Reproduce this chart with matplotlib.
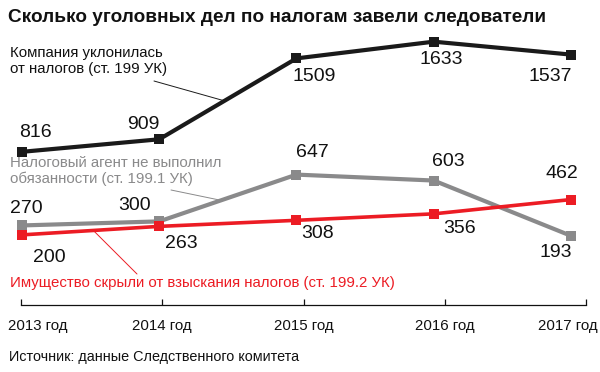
import matplotlib
matplotlib.use("Agg")
import matplotlib.pyplot as plt
import matplotlib.transforms as mtransforms
import numpy as np

plt.rcParams["font.family"] = ["Liberation Sans", "DejaVu Sans"]

years = ["2013 год", "2014 год", "2015 год", "2016 год", "2017 год"]
evasion = [816, 909, 1509, 1633, 1537]        # ст. 199 УК
agent = [270, 300, 647, 603, 193]             # ст. 199.1 УК
concealed = [200, 263, 308, 356, 462]         # ст. 199.2 УК

BLACK = "#1a1a1a"
GRAY = "#8a8a8b"
RED = "#ec1c24"

W, H = 600, 372
fig = plt.figure(figsize=(W / 100, H / 100), dpi=100)
fig.patch.set_facecolor("white")

# full-figure axes, limits chosen so the lines sit where the original has them
axis = fig.add_axes([0, 0, 1, 1])
axis.set_xlim(-0.160, 4.211)
axis.set_ylim(-817, 1942)
axis.axis("off")

x_values = np.arange(len(years))

# label offsets (pixels) relative to each marker
evasion_offsets = [(13, 19), (-16, 15), (18, -18), (7, -18), (-21, -22)]
agent_offsets = [(4, 17), (-25, 16), (16, 22), (15, 19), (-15, -17)]
concealed_offsets = [(27, -23), (22, -17), (21, -13), (26, -15), (-9, 26)]

for values, color, offsets, lw in [
    (agent, GRAY, agent_offsets, 3.0),
    (concealed, RED, concealed_offsets, 2.6),
    (evasion, BLACK, evasion_offsets, 3.0),
]:
    axis.plot(x_values, values, "-s", color=color, linewidth=lw, markersize=7,
              markeredgewidth=0, clip_on=False)
    for x, value, (dx, dy) in zip(x_values, values, offsets):
        axis.annotate(str(value), (x, value), xytext=(dx, dy), textcoords="offset pixels",
                      ha="center", va="center", fontsize=14, color="#111111")


def px(x, y):
    return (x / W, 1 - y / H)


# series labels with thin leader lines
fig.text(*px(10, 61), "Компания уклонилась\nот налогов (ст. 199 УК)", fontsize=10.8,
         color="#111111", va="center", ha="left", linespacing=1.1)
fig.text(*px(10, 171), "Налоговый агент не выполнил\nобязанности (ст. 199.1 УК)", fontsize=10.8,
         color=GRAY, va="center", ha="left", linespacing=1.1)
fig.text(*px(10, 283), "Имущество скрыли от взыскания налогов (ст. 199.2 УК)", fontsize=10.8,
         color=RED, va="center", ha="left")

for at, values, color, start in [
    (1.475, evasion, BLACK, (154, 81)),
    (1.45, agent, GRAY, (171, 190)),
    (0.52, concealed, RED, (137, 274)),
]:
    axis.annotate("", xy=(at, np.interp(at, x_values, values)), xytext=(start[0], H - start[1]),
                  textcoords="figure pixels",
                  arrowprops=dict(arrowstyle="-", lw=0.7, color=color, shrinkA=0, shrinkB=0))

# bottom time axis
left, right, base = 21, 586, 305
time_axis = fig.add_axes([left / W, 1 - base / H, (right - left) / W, 0.001])
time_axis.set_xlim(0, len(years) - 1)
time_axis.set_ylim(0, 1)
for side in ["top", "left", "right"]:
    time_axis.spines[side].set_visible(False)
time_axis.spines["bottom"].set_linewidth(0.9)
time_axis.spines["bottom"].set_color("#111111")
time_axis.set_yticks([])
time_axis.set_xticks(x_values)
time_axis.set_xticklabels(years, fontsize=10.8, color="#111111")
time_axis.tick_params(axis="x", direction="in", length=4, width=0.9, color="#111111", pad=10)
labels = time_axis.get_xticklabels()
labels[0].set_ha("left")
labels[0].set_transform(labels[0].get_transform() + mtransforms.ScaledTranslation(-0.13, 0, fig.dpi_scale_trans))
labels[-1].set_ha("right")
labels[-1].set_transform(labels[-1].get_transform() + mtransforms.ScaledTranslation(0.12, 0, fig.dpi_scale_trans))
time_axis.patch.set_visible(False)

fig.text(*px(8, 18), "Сколько уголовных дел по налогам завели следователи", fontsize=13.7,
         fontweight="bold", color="#111111", va="center", ha="left")
fig.text(*px(9, 357), "Источник: данные Следственного комитета", fontsize=10.4,
         color="#111111", va="center", ha="left")

fig.savefig("out.png", dpi=100)
